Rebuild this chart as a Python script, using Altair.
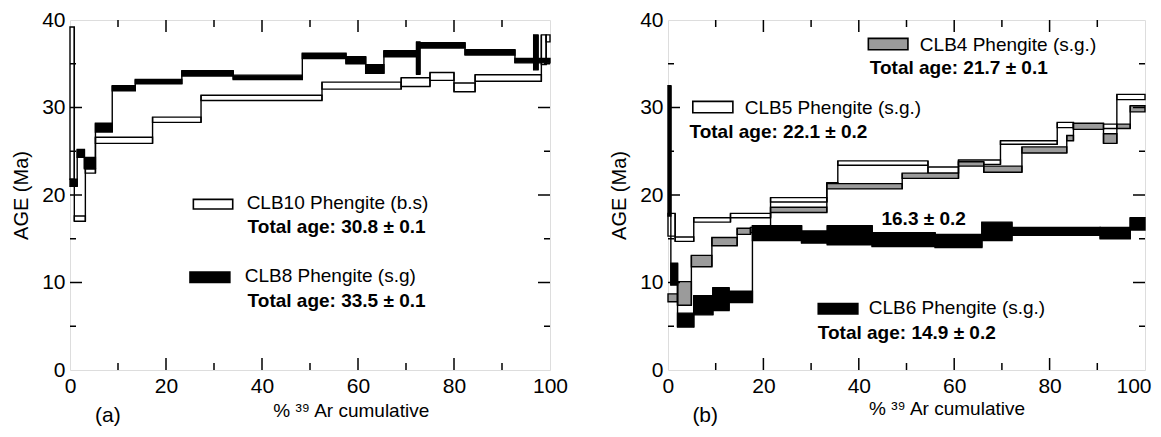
import altair as alt
import pandas as pd

FONT = "Liberation Sans Narrow, Arial Narrow, Liberation Sans, sans-serif"

# ---------------- Panel (a) data ----------------
clb10_x = [0, 0.9, 3.2, 5.3, 17.2, 27.3, 52.5, 69.0, 75.0, 80.0, 84.4, 98.2, 99.2, 100]
clb10_lo = [21.8, 17.0, 22.5, 25.9, 28.3, 30.8, 32.1, 32.4, 33.1, 31.8, 33.0, 34.9, 37.5]
clb10_hi = [39.2, 17.6, 23.0, 26.6, 28.9, 31.4, 32.9, 33.4, 34.0, 32.8, 33.75, 38.3, 38.3]

clb8_x = [0, 1.5, 3.0, 5.3, 8.8, 13.6, 23.3, 34.0, 48.4, 57.5, 61.6, 65.4, 72.2, 72.9,
          82.3, 92.7, 96.6, 97.5, 100]
clb8_lo = [21.0, 24.3, 23.0, 27.2, 31.9, 32.7, 33.6, 33.2, 35.6, 35.0, 33.9, 35.8, 33.8,
           36.8, 36.0, 35.1, 34.3, 35.1]
clb8_hi = [21.8, 25.2, 24.3, 28.2, 32.5, 33.2, 34.2, 33.7, 36.2, 35.8, 34.9, 36.5, 37.5,
           37.4, 36.6, 35.6, 38.3, 35.6]

# ---------------- Panel (b) data ----------------
clb5_x = [0, 1.5, 5.4, 13.1, 21.5, 33.3, 35.6, 54.5, 60.9, 69.7, 81.6, 85.0, 94.1, 100]
clb5_lo = [15.3, 14.7, 16.9, 17.4, 19.2, 20.9, 23.4, 22.5, 23.5, 25.8, 27.7, 27.6, 30.9]
clb5_hi = [17.9, 15.2, 17.4, 17.9, 19.7, 21.4, 23.9, 23.2, 24.0, 26.2, 28.3, 28.1, 31.5]

clb4_x = [0, 2.0, 4.9, 9.2, 14.5, 17.3, 21.5, 33.3, 49.1, 60.9, 66.2, 74.2, 83.6, 85.0,
          91.3, 94.1, 96.9, 100]
clb4_lo = [7.8, 7.4, 11.8, 14.2, 15.5, 15.7, 18.0, 20.7, 21.9, 23.3, 22.6, 24.8, 26.2,
           27.5, 25.9, 27.6, 29.5]
clb4_hi = [8.7, 10.1, 13.1, 15.15, 16.2, 16.3, 18.6, 21.3, 22.5, 23.8, 23.3, 25.5, 26.8,
           28.2, 27.0, 28.1, 30.2]

clb6_x = [0, 0.6, 2.0, 5.4, 9.4, 12.8, 17.7, 28.0, 33.4, 42.8, 56.0, 65.8, 72.1, 90.6,
          96.9, 100]
clb6_lo = [17.6, 9.7, 4.9, 6.3, 6.8, 7.7, 14.8, 14.5, 14.3, 14.1, 14.0, 14.8, 15.4, 15.0, 16.0]
clb6_hi = [32.5, 12.2, 6.5, 8.5, 9.4, 9.0, 16.5, 15.9, 16.5, 15.7, 15.5, 16.9, 16.3, 16.3, 17.4]

# axis tick values
x_labels = [0, 20, 40, 60, 80, 100]
y_labels = [0, 10, 20, 30, 40]
x_major = [20, 40, 60, 80]
x_minor = [10, 30, 50, 70, 90]
y_major = [10, 20, 30]
y_minor = [5, 15, 25, 35]

WA, WB, H = 480, 477, 350

WHITE, GREY, BLACK = "#ffffff", "#9b9b9b", "#000000"


def steps(bounds, lo, hi):
    return pd.DataFrame({"x1": bounds[:-1], "x2": bounds[1:], "lo": lo, "hi": hi})


def joins(bounds, lo, hi):
    rows = []
    for i in range(1, len(lo)):
        rows.append({"x": bounds[i], "y1": min(lo[i - 1], lo[i]), "y2": max(hi[i - 1], hi[i])})
    return pd.DataFrame(rows)


xs = alt.Scale(domain=[0, 100], nice=False, zero=False)
ys = alt.Scale(domain=[0, 40], nice=False, zero=False)


def make_ax(flush):
    if flush:
        return alt.Axis(values=x_labels, ticks=False, domain=False, grid=False, title=None,
                        labelFont=FONT, labelFontSize=21, labelPadding=5, labelColor="black",
                        labelFlush=True, labelFlushOffset=6)
    return alt.Axis(values=x_labels, ticks=False, domain=False, grid=False, title=None,
                    labelFont=FONT, labelFontSize=21, labelPadding=5, labelColor="black",
                    labelFlush=False)


AY = alt.Axis(values=y_labels, ticks=False, domain=False, grid=False, title="AGE (Ma)",
              labelFont=FONT, labelFontSize=21, labelPadding=5, labelColor="black",
              titleFont=FONT, titleFontSize=20, titleFontWeight="normal", titleColor="black",
              titlePadding=10, labelFlush=False)


def build_panel(W, ax, parts):
    def X(f):
        return alt.X(f, scale=xs, axis=ax)

    def Y(f):
        return alt.Y(f, scale=ys, axis=AY)

    layers = []
    for bounds, lo, hi, fill in parts["series"]:
        layers.append(alt.Chart(steps(bounds, lo, hi)).mark_rect(
            fill=fill, stroke="black", strokeWidth=1.4
        ).encode(x=X("x1:Q"), x2="x2:Q", y=Y("lo:Q"), y2="hi:Q"))
        layers.append(alt.Chart(joins(bounds, lo, hi)).mark_rule(
            color="black", strokeWidth=1.4
        ).encode(x=X("x:Q"), y=Y("y1:Q"), y2="y2:Q"))

    for vals, ln in ((y_major, 12), (y_minor, 6)):
        d = pd.DataFrame({"v": vals})
        layers.append(alt.Chart(d).mark_rule(color="black", strokeWidth=1.5).encode(
            y=Y("v:Q"), x=alt.value(0), x2=alt.value(ln)))
        layers.append(alt.Chart(d).mark_rule(color="black", strokeWidth=1.5).encode(
            y=Y("v:Q"), x=alt.value(W - ln), x2=alt.value(W)))
    for vals, ln in ((x_major, 12), (x_minor, 7)):
        d = pd.DataFrame({"v": vals})
        layers.append(alt.Chart(d).mark_rule(color="black", strokeWidth=1.5).encode(
            x=X("v:Q"), y=alt.value(0), y2=alt.value(ln)))
        layers.append(alt.Chart(d).mark_rule(color="black", strokeWidth=1.5).encode(
            x=X("v:Q"), y=alt.value(H - ln), y2=alt.value(H)))

    for x1, x2, y1, y2, fill in parts["boxes"]:
        d = pd.DataFrame({"x1": [x1], "x2": [x2], "y1": [y1], "y2": [y2]})
        layers.append(alt.Chart(d).mark_rect(fill=fill, stroke="black", strokeWidth=1.6).encode(
            x=X("x1:Q"), x2="x2:Q", y=Y("y1:Q"), y2="y2:Q"))

    for txt, x, y, size, bold, align in parts["texts"]:
        d = pd.DataFrame({"x": [x], "y": [y], "t": [txt]})
        layers.append(alt.Chart(d).mark_text(
            align=align, baseline="middle", font=FONT, fontSize=size,
            fontWeight="bold" if bold else "normal", color="black"
        ).encode(x=X("x:Q"), y=Y("y:Q"), text="t:N"))

    return alt.layer(*layers).properties(width=W, height=H)


panel_a = build_panel(WA, make_ax(False), {
    "series": [(clb10_x, clb10_lo, clb10_hi, WHITE),
               (clb8_x, clb8_lo, clb8_hi, BLACK)],
    "boxes": [(25.7, 33.9, 18.4, 19.5, WHITE),
              (25.0, 33.3, 10.0, 11.2, BLACK)],
    "texts": [("CLB10 Phengite (b.s)", 36.8, 19.1, 19, False, "left"),
              ("Total age: 30.8 \u00b1 0.1", 37.0, 16.4, 19, True, "left"),
              ("CLB8 Phengite (s.g)", 36.4, 10.7, 19, False, "left"),
              ("Total age: 33.5 \u00b1 0.1", 37.0, 7.9, 19, True, "left"),
              ("% \u00b3\u2079 Ar cumulative", 58.6, -4.7, 19, False, "center"),
              ("(a)", 7.9, -5.2, 21, False, "center")],
})

panel_b = build_panel(WB, make_ax(True), {
    "series": [(clb5_x, clb5_lo, clb5_hi, WHITE),
               (clb4_x, clb4_lo, clb4_hi, GREY),
               (clb6_x, clb6_lo, clb6_hi, BLACK)],
    "boxes": [(42.0, 50.3, 36.6, 37.9, GREY),
              (5.2, 13.6, 29.4, 30.7, WHITE),
              (31.5, 39.8, 6.4, 7.6, BLACK)],
    "texts": [("CLB4 Phengite (s.g.)", 52.8, 37.2, 19, False, "left"),
              ("Total age: 21.7 \u00b1 0.1", 42.3, 34.5, 19, True, "left"),
              ("CLB5 Phengite (s.g.)", 16.1, 30.0, 19, False, "left"),
              ("Total age: 22.1 \u00b1 0.2", 4.5, 27.2, 19, True, "left"),
              ("CLB6 Phengite (s.g.)", 42.1, 7.1, 19, False, "left"),
              ("Total age: 14.9 \u00b1 0.2", 31.4, 4.25, 19, True, "left"),
              ("16.3 \u00b1 0.2", 53.6, 17.3, 19, True, "center"),
              ("% \u00b3\u2079 Ar cumulative", 58.5, -4.4, 19, False, "center"),
              ("(b)", 7.8, -5.2, 21, False, "center")],
})

chart = alt.hconcat(panel_a, panel_b, spacing=40).properties(
    padding={"left": 3, "top": 0, "right": 0, "bottom": 0}
).configure_view(stroke="black", strokeWidth=2).configure(background="white")

chart.save("out.html", embed_options={"renderer": "svg", "actions": False})
